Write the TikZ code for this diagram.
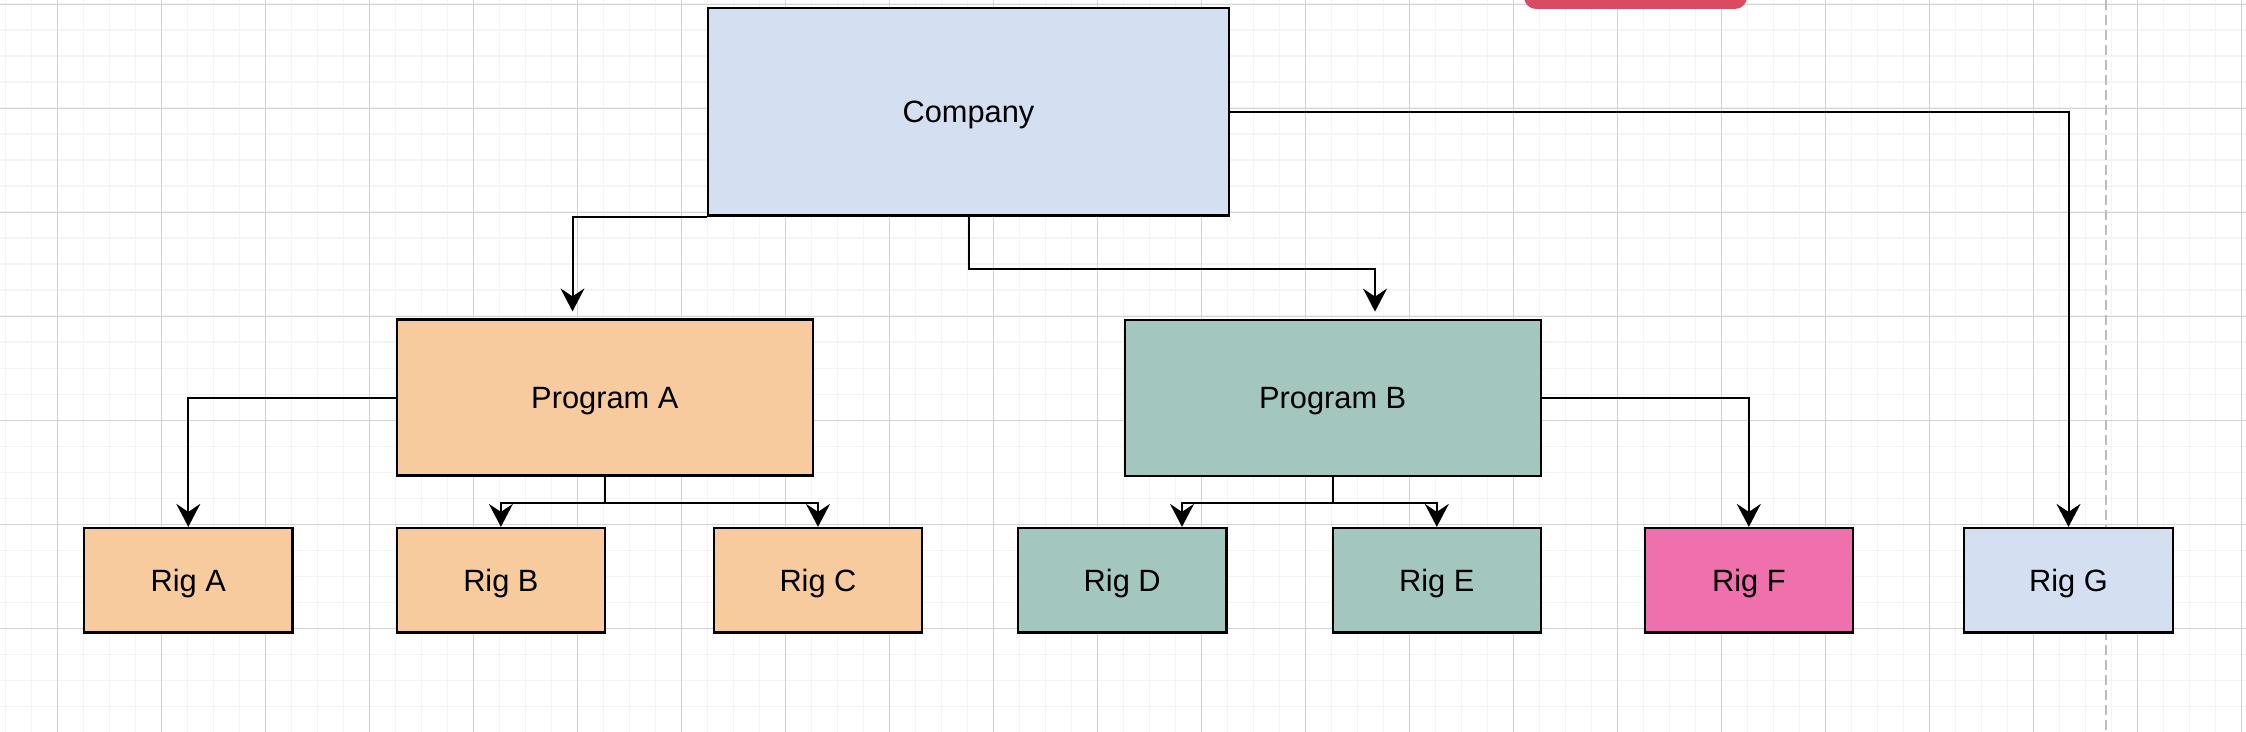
\documentclass[tikz,border=0pt]{standalone}
\usepackage{fontspec}
\setmainfont{Liberation Sans}
\usetikzlibrary{arrows.meta,calc}
\definecolor{gridminor}{HTML}{F4F4F4}
\definecolor{gridmajor}{HTML}{D2D2D2}
\definecolor{bluefill}{HTML}{D4E0F2}
\definecolor{peachfill}{HTML}{F7CB9D}
\definecolor{tealfill}{HTML}{A3C7BE}
\definecolor{pinkfill}{HTML}{EE70AD}
\definecolor{redtag}{HTML}{DB4A61}
\definecolor{dashgray}{HTML}{BDBDBD}
\tikzset{
  box/.style={draw=black, line width=1.1pt, inner sep=0pt, text height=11pt, text depth=0pt, font=\fontsize{15.4}{18}\selectfont},
  bigbox/.style={box, minimum width=260.2pt, minimum height=103.6pt},
  progbox/.style={box, minimum width=208.1pt, minimum height=78pt},
  rigbox/.style={box, minimum width=104.2pt, minimum height=52.2pt},
  conn/.style={draw=black, line width=1pt, -{Stealth[length=11.5pt, width=12pt, inset=4pt]}},
  minorline/.style={draw=gridminor, line width=0.8pt},
  majorline/.style={draw=gridmajor, line width=0.5pt},
}
\begin{document}
\begin{tikzpicture}[x={(0.5pt,0pt)}, y={(0pt,-0.5pt)}]
\useasboundingbox (0,0) rectangle (2246,732);
\fill[white] (0,0) rectangle (2246,732);
% grid
\foreach \i in {0,...,86} \draw[minorline] ({5.3+26*\i},0) -- ({5.3+26*\i},732);
\foreach \i in {0,...,28} \draw[minorline] (0,{4.3+26*\i}) -- (2246,{4.3+26*\i});
\foreach \i in {0,...,21} \draw[majorline] ({57.3+104*\i},0) -- ({57.3+104*\i},732);
\foreach \i in {0,...,7} \draw[majorline] (0,{4.3+104*\i}) -- (2246,{4.3+104*\i});
% red tag cut off at top
\fill[redtag, rounded corners=6pt] (1524,-30) rectangle (1747,9);
% dashed page break line
\draw[dashgray, line width=0.75pt, dash pattern=on 5pt off 2.5pt] (2106,0) -- (2106,732);
% nodes
\node[bigbox, fill=bluefill] (company) at (968.5,112) {Company};
\node[progbox, fill=peachfill] (pa) at (604.8,397.5) {Program A};
\node[progbox, fill=tealfill] (pb) at (1332.7,397.7) {Program B};
\node[rigbox, fill=peachfill] (ra) at (188.3,580.2) {Rig A};
\node[rigbox, fill=peachfill] (rb) at (500.9,580.2) {Rig B};
\node[rigbox, fill=peachfill] (rc) at (818,580.2) {Rig C};
\node[rigbox, fill=tealfill] (rd) at (1122.2,580.2) {Rig D};
\node[rigbox, fill=tealfill] (re) at (1436.8,580.2) {Rig E};
\node[rigbox, fill=pinkfill] (rf) at (1748.8,580.2) {Rig F};
\node[rigbox, fill=bluefill] (rg) at (2068.5,580.2) {Rig G};
% connectors
\draw[conn, shorten >=3.5pt] (company.south west) -| ([xshift=-16.15pt]pa.north);
\draw[conn, shorten >=3.5pt] (company.south) -- ++(0,52) -| ([xshift=21.15pt]pb.north);
\draw[conn] (company.east) -| (rg.north);
\draw[conn] (pa.west) -| (ra.north);
\draw[conn] (pa.south) -- ++(0,26.5) -| (rb.north);
\draw[conn] (pa.south) -- ++(0,26.5) -| (rc.north);
\draw[conn] (pb.south) -- ++(0,26.5) -| ([xshift=29.9pt]rd.north);
\draw[conn] (pb.south) -- ++(0,26.5) -| (re.north);
\draw[conn] (pb.east) -| (rf.north);
\end{tikzpicture}
\end{document}
